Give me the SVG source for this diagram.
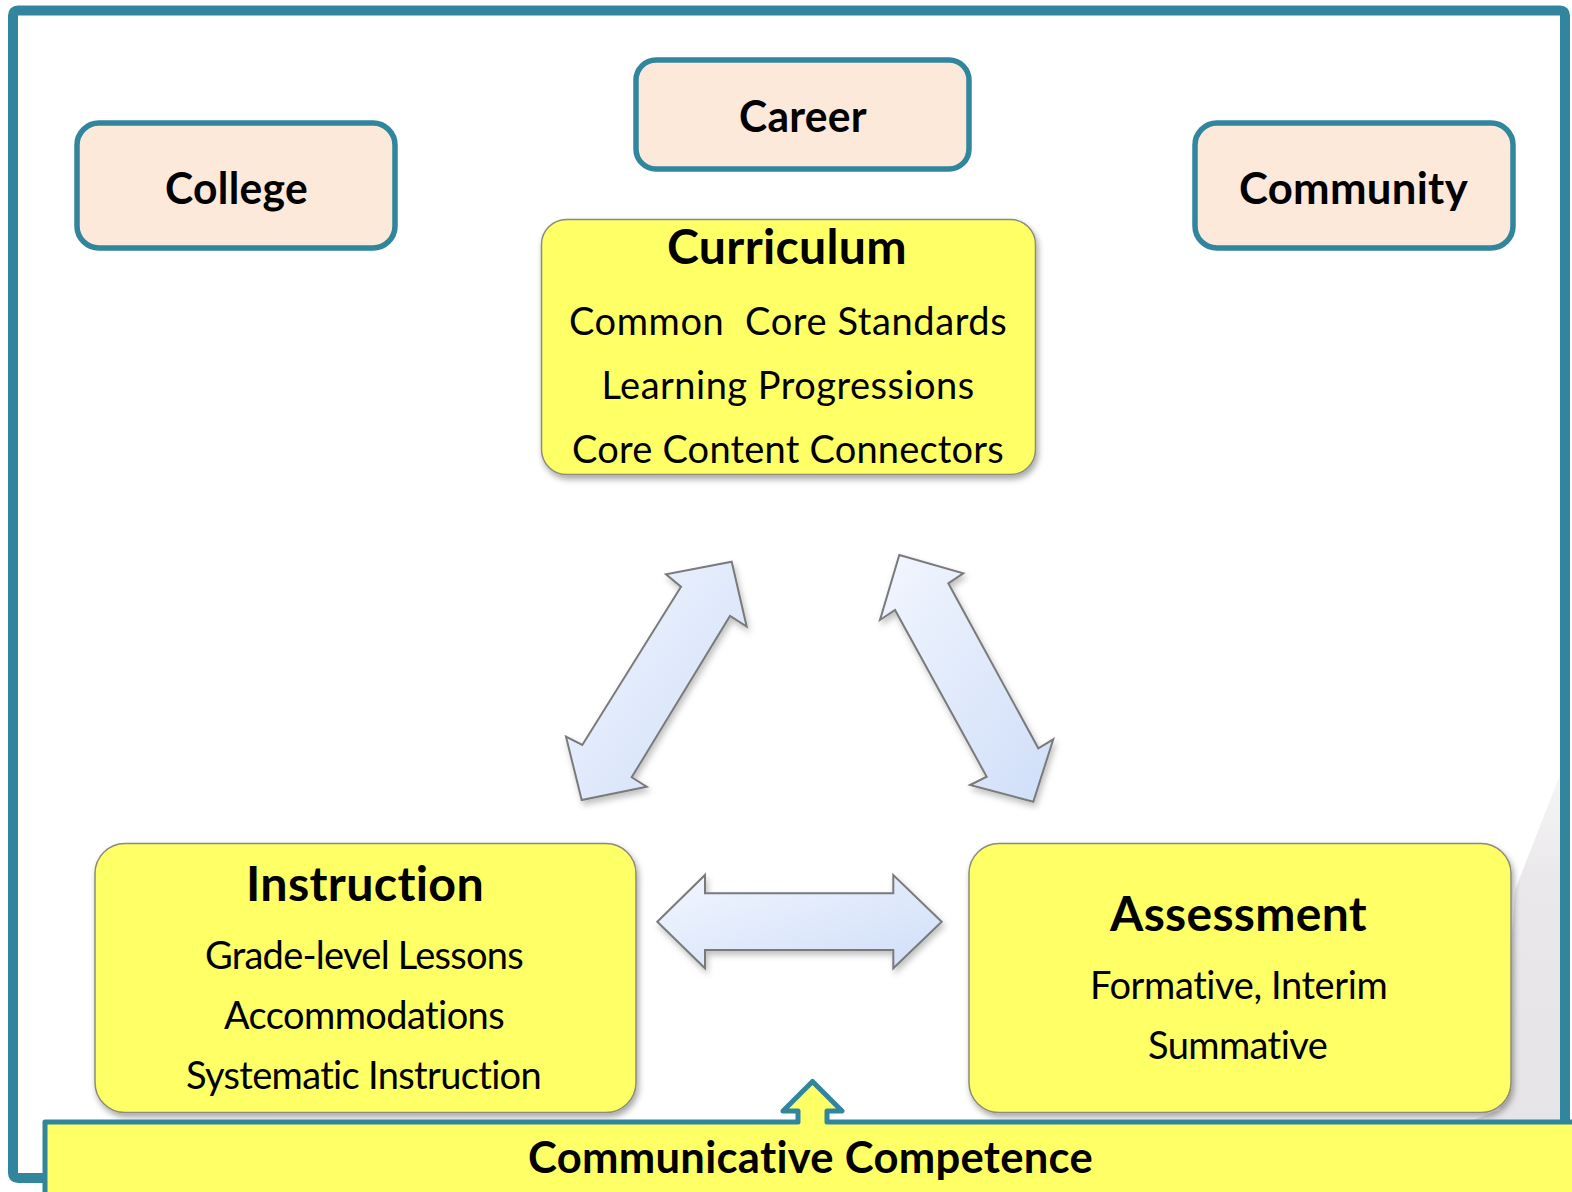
<svg xmlns="http://www.w3.org/2000/svg" width="1572" height="1192" viewBox="0 0 1572 1192">
<defs>
<style>
.peach{fill:#FDE9D9;stroke:#31859C;stroke-width:5.5}
.yel{fill:#FFFF66;stroke:#8C8C7A;stroke-width:1.5}
.arr{fill:url(#ag);stroke:#7A7A7A;stroke-width:2;stroke-linejoin:miter}
.t{font-family:Lato,"Liberation Sans",sans-serif;fill:#000;text-anchor:middle;font-variant-ligatures:none;font-feature-settings:"liga" 0,"clig" 0,"dlig" 0,"calt" 0;letter-spacing:0.3px}
.b{font-weight:bold}
.lab{font-size:43px}
.tit{font-size:47px}
.body{font-size:38px}
</style>
<linearGradient id="ag" x1="0" y1="0" x2="1" y2="1">
<stop offset="0" stop-color="#F2F6FE"/>
<stop offset="1" stop-color="#CFDEF9"/>
</linearGradient>
<linearGradient id="gg" x1="0" y1="0" x2="0" y2="1">
<stop offset="0" stop-color="#F6F5F6"/>
<stop offset="0.3" stop-color="#EAE8EA"/>
<stop offset="1" stop-color="#E6E4E6"/>
</linearGradient>
<filter id="sh" x="-10%" y="-10%" width="125%" height="130%">
<feDropShadow dx="2" dy="4" stdDeviation="3" flood-color="#000" flood-opacity="0.35"/>
</filter>
<filter id="ash" x="-20%" y="-20%" width="150%" height="150%">
<feDropShadow dx="2" dy="4" stdDeviation="3" flood-color="#000" flood-opacity="0.25"/>
</filter>
</defs>
<rect width="1572" height="1192" fill="#FFFFFF"/>
<polygon points="1560,775 1560,1121 1470,1121 1500,1110 1515,890" fill="url(#gg)"/>
<path d="M45 1178 L18 1178 Q13 1178 13 1173 L13 15.5 Q13 10.5 18 10.5 L1560 10.5 Q1565 10.5 1565 15.5 L1565 1125" fill="none" stroke="#31859C" stroke-width="10" stroke-linejoin="round"/>
<g id="connectors">
<polygon id="arrow-curr-instr" class="arr" filter="url(#ash)" points="731.7,561.7 746.7,626.7 730,616 631.7,777.3 646.7,786.7 581.7,800 566,736.7 582.3,745 681,586.7 666,574.3"/>
<polygon id="arrow-curr-assess" class="arr" filter="url(#ash)" points="899.3,555 963.3,573.3 948.3,583.3 1038.3,748.3 1053.3,739.3 1033.3,801.7 970,785 986.7,776.7 895,610 880,620"/>
<polygon id="arrow-instr-assess" class="arr" filter="url(#ash)" points="657.3,921.7 705,875 705,893.3 893.3,893.3 893.3,875 941.7,921.7 893.3,968.3 893.3,950 705,950 705,968.3"/>
</g>
<g id="college">
<rect class="peach" x="77" y="123" width="318" height="125" rx="22"/>
<text class="t b lab" x="236.5" y="204" textLength="143" lengthAdjust="spacingAndGlyphs">College</text>
</g>
<g id="career">
<rect class="peach" x="636" y="60" width="333" height="109" rx="20"/>
<text class="t b lab" x="803" y="132" textLength="128" lengthAdjust="spacingAndGlyphs">Career</text>
</g>
<g id="community">
<rect class="peach" x="1195" y="123" width="318" height="125" rx="22"/>
<text class="t b lab" x="1353.5" y="204" textLength="229" lengthAdjust="spacingAndGlyphs">Community</text>
</g>
<g id="curriculum">
<rect class="yel" filter="url(#sh)" x="541.5" y="219.5" width="494" height="255" rx="25"/>
<text class="t b tit" x="787" y="264" textLength="240" lengthAdjust="spacingAndGlyphs">Curriculum</text>
<text class="t body" x="788" y="335" textLength="438" lengthAdjust="spacing" xml:space="preserve">Common  Core Standards</text>
<text class="t body" x="788" y="399" textLength="373" lengthAdjust="spacing">Learning Progressions</text>
<text class="t body" x="788" y="463" textLength="432" lengthAdjust="spacing">Core Content Connectors</text>
</g>
<g id="instruction">
<rect class="yel" filter="url(#sh)" x="95" y="843.5" width="541" height="269" rx="30"/>
<text class="t b tit" x="365" y="901" textLength="238" lengthAdjust="spacingAndGlyphs">Instruction</text>
<text class="t body" x="364.5" y="969" textLength="319" lengthAdjust="spacing">Grade-level Lessons</text>
<text class="t body" x="364.5" y="1029" textLength="281" lengthAdjust="spacing">Accommodations</text>
<text class="t body" x="364" y="1089" textLength="356" lengthAdjust="spacing">Systematic Instruction</text>
</g>
<g id="assessment">
<rect class="yel" filter="url(#sh)" x="969" y="843.5" width="542" height="269" rx="30"/>
<text class="t b tit" x="1238.5" y="931" textLength="257" lengthAdjust="spacingAndGlyphs">Assessment</text>
<text class="t body" x="1239" y="999" textLength="298" lengthAdjust="spacing">Formative, Interim</text>
<text class="t body" x="1238" y="1059" textLength="180" lengthAdjust="spacing">Summative</text>
</g>
<g id="communicative-competence">
<path d="M45 1200 L45 1122 L798 1122 L798 1111 L783 1111 L812.5 1081.5 L842 1111 L827 1111 L827 1122 L1580 1122 L1580 1200 Z" fill="#FFFF66" stroke="#31859C" stroke-width="5" stroke-linejoin="round"/>
<text class="t b lab" x="810.5" y="1173" textLength="565" lengthAdjust="spacingAndGlyphs">Communicative Competence</text>
</g>
</svg>
